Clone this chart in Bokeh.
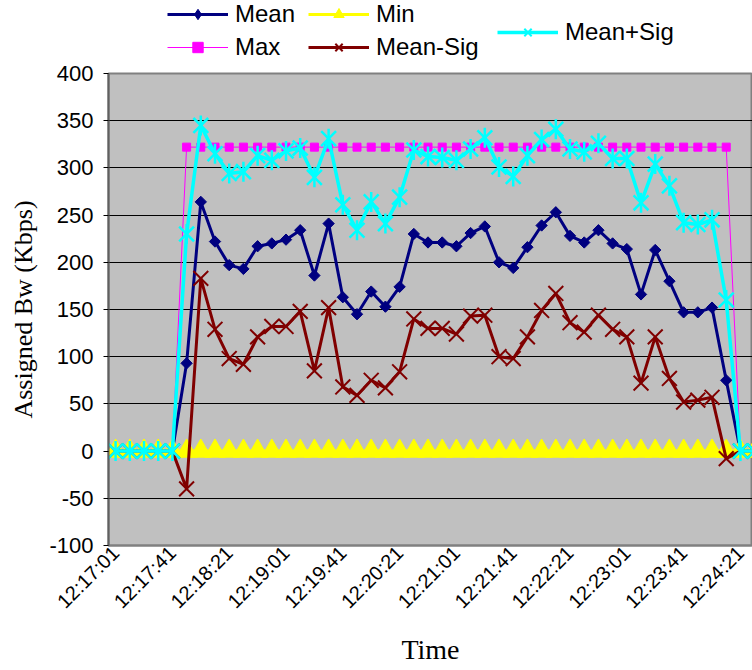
import math
from bokeh.plotting import figure
from bokeh.layouts import column
from bokeh.models import (ColumnDataSource, Range1d, FixedTicker, Legend,
                          LegendItem)
from bokeh.embed import file_html
from bokeh.resources import INLINE

# ---------------- data ----------------
times = [
    "12:17:01", "12:17:11", "12:17:21", "12:17:31", "12:17:41", "12:17:51",
    "12:18:01", "12:18:11", "12:18:21", "12:18:31", "12:18:41", "12:18:51",
    "12:19:01", "12:19:11", "12:19:21", "12:19:31", "12:19:41", "12:19:51",
    "12:20:01", "12:20:11", "12:20:21", "12:20:31", "12:20:41", "12:20:51",
    "12:21:01", "12:21:11", "12:21:21", "12:21:31", "12:21:41", "12:21:51",
    "12:22:01", "12:22:11", "12:22:21", "12:22:31", "12:22:41", "12:22:51",
    "12:23:01", "12:23:11", "12:23:21", "12:23:31", "12:23:41", "12:23:51",
    "12:24:01", "12:24:11", "12:24:21", "12:24:31",
]
mean = [0, 0, 0, 0, 0, 93, 264, 222, 197, 193, 217, 220, 224, 234, 186, 241,
        163, 145, 169, 153, 174, 230, 221, 221, 217, 231, 238, 200, 194, 216,
        239, 253, 228, 221, 234, 220, 214, 166, 213, 180, 147, 147, 152, 75,
        0, 0]
max_bw = [0, 0, 0, 0, 0, 322, 322, 322, 322, 322, 322, 322, 322, 322, 322,
          322, 322, 322, 322, 322, 322, 322, 322, 322, 322, 322, 322, 322,
          322, 322, 322, 322, 322, 322, 322, 322, 322, 322, 322, 322, 322,
          322, 322, 322, 0, 0]
min_bw = [0, 0, 0, 0, 0, 0, 0, 0, 0, 0, 0, 0, 0, 0, 0, 0, 0, 0, 0, 0, 0, 0,
          0, 0, 0, 0, 0, 0, 0, 0, 0, 0, 0, 0, 0, 0, 0, 0, 0, 0, 0, 0, 0, 0,
          0, 0]
mean_minus_sig = [0, 0, 0, 0, 0, -40, 183, 129, 98, 92, 121, 132, 132, 148,
                  85, 152, 68, 59, 75, 67, 84, 140, 130, 130, 124, 143, 144,
                  100, 98, 121, 149, 167, 136, 126, 144, 129, 121, 72, 121, 77,
                  52, 54, 57, -8, 0, 0]
mean_plus_sig = [0, 0, 0, 0, 0, 230, 345, 315, 294, 296, 313, 308, 318, 321,
                 290, 331, 261, 234, 264, 241, 269, 319, 312, 311, 308, 320,
                 332, 301, 291, 313, 330, 341, 320, 317, 326, 310, 310, 263,
                 304, 281, 242, 240, 245, 160, 0, 0]
y_ticks = [-100, -50, 0, 50, 100, 150, 200, 250, 300, 350, 400]
y_tick_labels = ["-100", "-50", "0", "50", "100", "150", "200", "250", "300",
                 "350", "400"]
label_every = 4

NAVY, MAG, YEL, DRED, CYAN = "#000080", "#FF00FF", "#FFFF00", "#800000", "#00FFFF"
SERIES = [  # name, column, color, line width, marker specs, legend marker specs
    ("Mean", "mean", NAVY, 3,
     [dict(marker="square", angle=math.pi / 4, size=8, fill_color=NAVY, line_color=NAVY)],
     [dict(marker="diamond", fill_color=NAVY, line_color=NAVY)]),
    ("Max", "mx", MAG, 1,
     [dict(marker="square", size=8, fill_color=MAG, line_color=MAG)],
     [dict(marker="square", fill_color=MAG, line_color=MAG)]),
    ("Min", "mn", YEL, 3,
     [dict(marker="triangle", size=21, fill_color=YEL, line_color=YEL)],
     [dict(marker="triangle", fill_color=YEL, line_color=YEL)]),
    ("Mean-Sig", "msub", DRED, 3,
     [dict(marker="x", size=21, line_color=DRED, line_width=2)],
     [dict(marker="x", line_color=DRED, line_width=2)]),
    ("Mean+Sig", "madd", CYAN, 3.5,
     [dict(marker="x", size=21, line_color=CYAN, line_width=2.5),
      dict(marker="dash", angle=math.pi / 2, size=20, line_color=CYAN, line_width=2.5)],
     [dict(marker="x", line_color=CYAN, line_width=2),
      dict(marker="dash", angle=math.pi / 2, line_color=CYAN, line_width=2)]),
]

# ---------------- main figure ----------------
idx = list(range(len(times)))
src = ColumnDataSource(dict(x=idx, t=times, mean=mean, mx=max_bw, mn=min_bw,
                            msub=mean_minus_sig, madd=mean_plus_sig))

p = figure(width=752, height=609, output_backend="svg", toolbar_location=None,
           x_range=Range1d(-0.5, 44.85), y_range=Range1d(-100, 400),
           min_border_left=108, min_border_right=0, min_border_top=12,
           min_border_bottom=125)
p.background_fill_color = "#C0C0C0"
p.border_fill_color = "white"
p.outline_line_color = "#808080"
p.outline_line_width = 2

for name, col, color, lw, marks, _ in SERIES:
    p.line("x", col, source=src, line_color=color, line_width=lw)
    for m in marks:
        p.scatter("x", col, source=src, **m)

label_ticks = idx[::label_every]
p.xaxis.ticker = FixedTicker(ticks=label_ticks)
p.xaxis.major_label_overrides = {i: times[i] for i in label_ticks}
p.xaxis.major_label_orientation = math.pi / 4
p.xaxis.major_label_text_font = "Liberation Sans"
p.xaxis.major_label_text_font_size = "20px"
p.xaxis.major_label_text_color = "black"
p.xaxis.major_label_standoff = 4
p.xaxis.major_tick_out = 0
p.xaxis.major_tick_in = 0
p.xaxis.minor_tick_line_color = None
p.xaxis.axis_line_color = "#808080"
p.xaxis.axis_line_width = 2
p.xaxis.axis_label = "Time"
p.xaxis.axis_label_text_font = "Liberation Serif"
p.xaxis.axis_label_text_font_size = "28px"
p.xaxis.axis_label_text_font_style = "normal"
p.xaxis.axis_label_text_color = "black"
p.xaxis.axis_label_standoff = 11
p.xgrid.grid_line_color = None

p.yaxis.ticker = FixedTicker(ticks=y_ticks)
p.yaxis.major_label_overrides = dict(zip(y_ticks, y_tick_labels))
p.yaxis.major_label_text_font = "Liberation Sans"
p.yaxis.major_label_text_font_size = "22px"
p.yaxis.major_label_text_color = "black"
p.yaxis.major_label_standoff = 10
p.yaxis.major_tick_out = 5
p.yaxis.major_tick_in = 0
p.yaxis.major_tick_line_color = "black"
p.yaxis.minor_tick_line_color = None
p.yaxis.axis_line_color = "#606060"
p.yaxis.axis_line_width = 2
p.yaxis.axis_label = "Assigned Bw (Kbps)"
p.yaxis.axis_label_text_font = "Liberation Serif"
p.yaxis.axis_label_text_font_size = "26px"
p.yaxis.axis_label_text_font_style = "normal"
p.yaxis.axis_label_text_color = "black"
p.yaxis.axis_label_standoff = 8
p.ygrid.ticker = FixedTicker(ticks=y_ticks)
p.ygrid.grid_line_color = "black"
p.ygrid.grid_line_width = 1

# ---------------- legend strip ----------------
lf = figure(width=752, height=61, output_backend="svg", toolbar_location=None,
            x_range=Range1d(0, 1), y_range=Range1d(0, 1),
            x_axis_type=None, y_axis_type=None, min_border=0,
            min_border_left=0, min_border_right=0, min_border_top=0,
            min_border_bottom=0)
lf.outline_line_color = None
lf.background_fill_color = "white"

items = {}
for name, col, color, lw, _, lmarks in SERIES:
    rs = [lf.line([-5, -4], [-5, -5], line_color=color, line_width=lw)]
    for m in lmarks:
        rs.append(lf.scatter([-5], [-5], **m))
    items[name] = LegendItem(label=name, renderers=rs)

def add_legend(names, loc):
    lg = Legend(items=[items[n] for n in names], location=loc,
                orientation="vertical",
                label_text_font="Liberation Sans", label_text_font_size="24px",
                label_text_color="black", glyph_width=61, glyph_height=26,
                label_height=26, label_standoff=7, spacing=5, padding=0,
                margin=0, border_line_alpha=0, background_fill_alpha=0)
    lf.add_layout(lg, "center")

# frame of the strip is aligned with the chart frame (starts at x = 108)
add_legend(["Mean", "Max"], (59, 0))
add_legend(["Min", "Mean-Sig"], (200, 0))
add_legend(["Mean+Sig"], (389, 15))

layout = column(lf, p, spacing=0)
open("out.html", "w").write(file_html(layout, INLINE))
